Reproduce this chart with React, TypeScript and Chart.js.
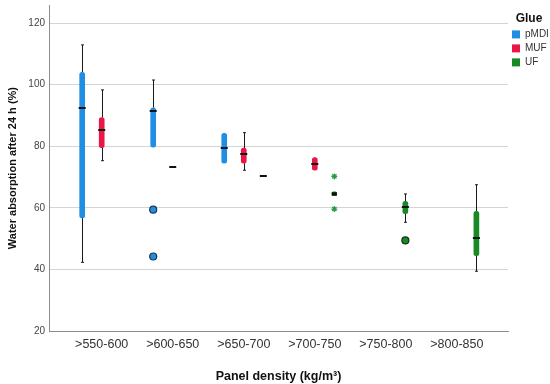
import React, { useEffect, useRef } from 'react';
import { Chart, registerables } from 'chart.js';
Chart.register(...registerables);

const categories = ['>550-600', '>600-650', '>650-700', '>700-750', '>750-800', '>800-850'];
const glues = ['pMDI', 'MUF', 'UF'];
const glueColors = ['#1f8fe3', '#ea1646', '#178a26'];
const glueOffsets = [-0.275, 0, 0.275];
const yTickValues = [20, 40, 60, 80, 100, 120];

// [min, q1, median, q3, max] per category (null = no data)
const pmdiStats = [
  [42.3, 56.7, 92.3, 104.0, 112.9],
  [79.7, 79.7, 91.5, 92.5, 101.5],
  [74.5, 74.5, 79.4, 84.2, 84.2],
  null, null, null,
];
const mufStats = [
  [75.3, 79.5, 85.4, 89.3, 98.3],
  [73.4, 73.4, 73.4, 73.4, 73.4],
  [72.2, 74.5, 77.4, 79.4, 84.4],
  [72.2, 72.2, 74.3, 76.3, 76.3],
  null, null,
];
const ufStats = [
  null, null,
  [70.2, 70.2, 70.2, 70.2, 70.2],
  [64.0, 64.0, 64.6, 65.2, 65.2],
  [55.3, 58.1, 60.3, 62.1, 64.5],
  [39.4, 44.5, 50.2, 58.9, 67.5],
];
const allStats = [pmdiStats, mufStats, ufStats];

// outliers: category index and value
const pmdiOutliers = [{ cat: 1, y: 59.4 }, { cat: 1, y: 44.2 }];
const ufOutliers = [{ cat: 4, y: 49.4 }];
const ufExtremes = [{ cat: 3, y: 70.2 }, { cat: 3, y: 59.6 }];

const FONT = "'Liberation Sans', Arial, Helvetica, sans-serif";

const whiskerPlugin = {
  id: 'whiskers',
  beforeDatasetsDraw(chart: any) {
    const { ctx, scales } = chart;
    const x = scales.x, y = scales.y;
    ctx.save();
    ctx.strokeStyle = '#1a1a1a';
    ctx.lineWidth = 1;
    allStats.forEach((stats, g) => {
      stats.forEach((s, i) => {
        if (!s) return;
        const px = Math.round(x.getPixelForValue(i + glueOffsets[g])) + 0.5;
        const [mn, q1, , q3, mx] = s;
        const pMin = y.getPixelForValue(mn), pQ1 = y.getPixelForValue(q1);
        const pQ3 = y.getPixelForValue(q3), pMax = y.getPixelForValue(mx);
        ctx.beginPath();
        if (mx > q3) {
          ctx.moveTo(px, pQ3); ctx.lineTo(px, pMax);
          ctx.moveTo(px - 1.5, pMax); ctx.lineTo(px + 1.5, pMax);
        }
        if (mn < q1) {
          ctx.moveTo(px, pQ1); ctx.lineTo(px, pMin);
          ctx.moveTo(px - 1.5, pMin); ctx.lineTo(px + 1.5, pMin);
        }
        ctx.stroke();
      });
    });
    ctx.restore();
  },
  afterDatasetsDraw(chart: any) {
    const { ctx, scales } = chart;
    const x = scales.x, y = scales.y;
    ctx.save();
    ctx.strokeStyle = '#111';
    allStats.forEach((stats, g) => {
      stats.forEach((s, i) => {
        if (!s) return;
        const px = x.getPixelForValue(i + glueOffsets[g]);
        const pm = Math.round(y.getPixelForValue(s[2]));
        const small = s[3] - s[1] > 0.5 && s[3] - s[1] < 2;
        ctx.lineWidth = small ? 3.5 : 2;
        ctx.beginPath();
        ctx.moveTo(px - (small ? 2.5 : 3.5), pm); ctx.lineTo(px + (small ? 2.5 : 3.5), pm);
        ctx.stroke();
      });
    });
    ctx.restore();
  },
};

export default function App() {
  const ref = useRef<HTMLCanvasElement>(null);
  useEffect(() => {
    if (!ref.current) return;
    Chart.defaults.font.family = FONT;
    const barSets = allStats.map((stats, g) => ({
      type: 'bar' as const,
      label: glues[g],
      data: stats
        .map((s, i) => (s && s[3] - s[1] > 0.5 ? { x: i + glueOffsets[g], y: [s[1], s[3]] } : null))
        .filter(Boolean) as any[],
      backgroundColor: glueColors[g],
      borderWidth: 0,
      borderRadius: 2.5,
      borderSkipped: false,
      barThickness: 5,
      grouped: false,
    }));
    const pointSet = (label: string, pts: { cat: number; y: number }[], g: number, style: string, fill: string, border: string, r: number, bw: number) => ({
      type: 'scatter' as const,
      label,
      data: pts.map((p) => ({ x: p.cat + glueOffsets[g], y: p.y })),
      pointStyle: style,
      pointRadius: r,
      backgroundColor: fill,
      borderColor: border,
      pointBorderWidth: bw,
      borderWidth: bw,
    });
    const chart = new Chart(ref.current, {
      type: 'bar',
      data: {
        datasets: [
          ...barSets,
          pointSet('pMDI outliers', pmdiOutliers, 0, 'circle', glueColors[0], '#1d3550', 3.5, 1.2),
          pointSet('UF outliers', ufOutliers, 2, 'circle', glueColors[2], '#14301a', 3.5, 1.2),
          pointSet('UF extremes', ufExtremes, 2, 'star', '#2a9a45', '#2a9a45', 3, 1.2),
        ] as any,
      },
      options: {
        animation: false,
        responsive: true,
        maintainAspectRatio: false,
        layout: { padding: { left: 0, right: 0, top: 4, bottom: 0 } },
        plugins: {
          tooltip: { enabled: false },
          legend: {
            position: 'right',
            align: 'start',
            maxWidth: 42,
            title: { display: true, text: 'Glue', color: '#111', font: { size: 12, weight: 'bold' }, padding: { top: 9, bottom: -2 } },
            labels: {
              boxWidth: 8,
              boxHeight: 8,
              padding: 4,
              color: '#333',
              font: { size: 10 },
              filter: (item: any) => item.datasetIndex < 3,
            },
          },
        },
        scales: {
          x: {
            type: 'linear',
            min: -0.742,
            max: 5.72,
            offset: false,
            grid: { display: false, drawTicks: false },
            border: { display: true, color: '#8c8c8c' },
            afterBuildTicks: (s: any) => { s.ticks = categories.map((_, i) => ({ value: i })); },
            afterFit: (s: any) => { s.height = 53; },
            ticks: {
              callback: (v: any) => categories[Math.round(v)] ?? '',
              font: { size: 12.5 },
              color: '#333',
              padding: 6,
              autoSkip: false,
              maxRotation: 0,
            },
            title: { display: true, text: 'Panel density (kg/m³)', color: '#111', font: { size: 12.5, weight: 'bold' }, padding: { top: 6, bottom: 0 } },
          },
          y: {
            type: 'linear',
            min: 20,
            max: 125.8,
            afterBuildTicks: (s: any) => { s.ticks = yTickValues.map((v) => ({ value: v })); },
            afterFit: (s: any) => { s.width = 49; s.paddingTop = 0; s.paddingBottom = 0; },
            grid: { color: '#d4d4d4', drawTicks: false },
            border: { display: true, color: '#8c8c8c' },
            ticks: { font: { size: 10 }, color: '#444', padding: 4 },
            title: { display: true, text: 'Water absorption after 24 h (%)', color: '#111', font: { size: 11, weight: 'bold' }, padding: { top: 6, bottom: 0 } },
          },
        },
      } as any,
      plugins: [whiskerPlugin],
    });
    return () => chart.destroy();
  }, []);
  return (
    <div style={{ position: 'absolute', left: 0, top: 0, width: 550, height: 384 }}>
      <canvas ref={ref} />
    </div>
  );
}
